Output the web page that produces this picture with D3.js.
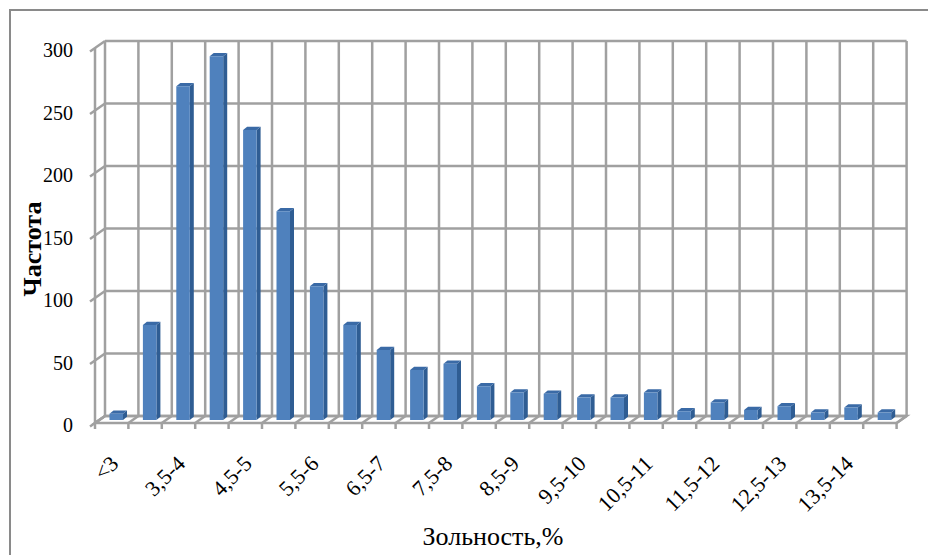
<!DOCTYPE html>
<html>
<head>
<meta charset="utf-8">
<script src="https://cdn.jsdelivr.net/npm/d3@7"></script>
<style>
  html, body { margin: 0; padding: 0; background: #fff; }
  svg { display: block; }
</style>
</head>
<body>
<svg id="chart" width="928" height="555" font-family="'Liberation Serif', Tinos, 'Times New Roman', 'DejaVu Serif', serif"></svg>
<script>
// Ash-content classes and the number of samples in each
const categories = ["<3", "3-3,5", "3,5-4", "4-4,5", "4,5-5", "5-5,5", "5,5-6", "6-6,5",
  "6,5-7", "7-7,5", "7,5-8", "8-8,5", "8,5-9", "9-9,5", "9,5-10", "10-10,5",
  "10,5-11", "11-11,5", "11,5-12", "12-12,5", "12,5-13", "13-13,5", "13,5-14", ">14"];
const frequencies = [5, 76, 267, 291, 232, 167, 107, 76, 56, 40, 45, 27,
  22, 21, 18, 18, 22, 7, 14, 8, 11, 6, 10, 6];
const yTicks = [0, 50, 100, 150, 200, 250, 300];
const shownLabels = ["<3", "3,5-4", "4,5-5", "5,5-6", "6,5-7", "7,5-8", "8,5-9",
  "9,5-10", "10,5-11", "11,5-12", "12,5-13", "13,5-14"];
const yTitle = "Частота";
const xTitle = "Зольность,%";

const svg = d3.select("#chart");

// front plane of the 3-D box
const x = d3.scaleBand().domain(categories).range([95, 896.6]).padding(0);
const y = d3.scaleLinear().domain([0, 300]).range([423, 48]);

// depth of the box: the back wall sits up and to the right of the front plane
const DX = 10, DY = -7;
const gridColor = "#a0a0a0";

// outer frame
svg.append("rect")
  .attr("x", 10).attr("y", 10).attr("width", 940).attr("height", 570)
  .attr("fill", "none").attr("stroke", "#8a8a8a").attr("stroke-width", 2);

const box = svg.append("g");
const x0 = x.range()[0], x1 = x.range()[1];
const step = x.step();
const boundaries = d3.range(categories.length + 1).map(i => x0 + i * step);

// floor
box.append("path")
  .attr("d", `M${x0},${y(0)}L${x1},${y(0)}L${x1 + DX},${y(0) + DY}L${x0 + DX},${y(0) + DY}Z`)
  .attr("fill", "#fff").attr("stroke", gridColor).attr("stroke-width", 2.5);
box.selectAll("line.floor").data(boundaries).join("line")
  .attr("class", "floor")
  .attr("x1", d => d).attr("y1", y(0))
  .attr("x2", d => d + DX).attr("y2", y(0) + DY)
  .attr("stroke", gridColor).attr("stroke-width", 2.5);

// front x-axis ticks
box.selectAll("line.xtick").data(boundaries).join("line")
  .attr("class", "xtick")
  .attr("x1", d => d).attr("y1", y(0))
  .attr("x2", d => d).attr("y2", y(0) + 6)
  .attr("stroke", gridColor).attr("stroke-width", 2.5);

// back wall: horizontal gridlines
box.selectAll("line.hgrid").data(yTicks).join("line")
  .attr("class", "hgrid")
  .attr("x1", x0 + DX).attr("y1", d => y(d) + DY)
  .attr("x2", x1 + DX).attr("y2", d => y(d) + DY)
  .attr("stroke", gridColor).attr("stroke-width", 2.5);

// back wall: vertical gridlines
box.selectAll("line.vgrid").data(boundaries).join("line")
  .attr("class", "vgrid")
  .attr("x1", d => d + DX).attr("y1", y(300) + DY)
  .attr("x2", d => d + DX).attr("y2", y(0) + DY)
  .attr("stroke", gridColor).attr("stroke-width", 2.5);

// left side wall: slanted gridlines, extended outward as ticks
box.selectAll("line.sgrid").data(yTicks).join("line")
  .attr("class", "sgrid")
  .attr("x1", x0 - 5).attr("y1", d => y(d) + 3.5)
  .attr("x2", x0 + DX).attr("y2", d => y(d) + DY)
  .attr("stroke", gridColor).attr("stroke-width", 2.5);

// front vertical axis line
box.append("line")
  .attr("x1", x0).attr("y1", y(300)).attr("x2", x0).attr("y2", y(0))
  .attr("stroke", gridColor).attr("stroke-width", 2.5);

// bars: front face, top and right side
const barW = 13.5, bx = 13.5, bdx = 4, bdy = -3.2, sink = 3;
const bars = box.selectAll("g.bar").data(categories.map((c, i) => ({ c, v: frequencies[i] })))
  .join("g").attr("class", "bar");
bars.append("path")
  .attr("d", d => {
    const l = x(d.c) + bx + 1, r = l + barW, t = y(d.v) - sink, b = y(0) - sink;
    return `M${r},${t}L${r + bdx},${t + bdy}L${r + bdx},${b + bdy}L${r},${b}Z`;
  })
  .attr("fill", "#2f5d93");
bars.append("path")
  .attr("d", d => {
    const l = x(d.c) + bx + 1, r = l + barW, t = y(d.v) - sink;
    return `M${l},${t}L${r},${t}L${r + bdx},${t + bdy}L${l + bdx},${t + bdy}Z`;
  })
  .attr("fill", "#3a6aa6");
bars.append("rect")
  .attr("x", d => x(d.c) + bx + 1)
  .attr("y", d => y(d.v) - sink)
  .attr("width", barW)
  .attr("height", d => y(0) - y(d.v))
  .attr("fill", "#4f81bd");

// y-axis labels
svg.append("g").selectAll("text").data(yTicks).join("text")
  .attr("x", 73).attr("y", d => y(d) + 2)
  .attr("text-anchor", "end").attr("dominant-baseline", "central")
  .attr("font-size", 20)
  .text(d => d);

// x-axis labels, rotated
svg.append("g").selectAll("text").data(shownLabels).join("text")
  .attr("transform", d => `translate(${x(d) + x.bandwidth() / 2 + 8},${465}) rotate(-45)`)
  .attr("text-anchor", "end")
  .attr("font-size", 22)
  .text(d => d);

// axis titles
svg.append("text")
  .attr("transform", "translate(41,249) rotate(-90)")
  .attr("text-anchor", "middle")
  .attr("font-size", 26).attr("font-weight", "bold")
  .text(yTitle);
svg.append("text")
  .attr("x", 493).attr("y", 545)
  .attr("text-anchor", "middle")
  .attr("font-size", 26)
  .text(xTitle);
</script>
</body>
</html>
